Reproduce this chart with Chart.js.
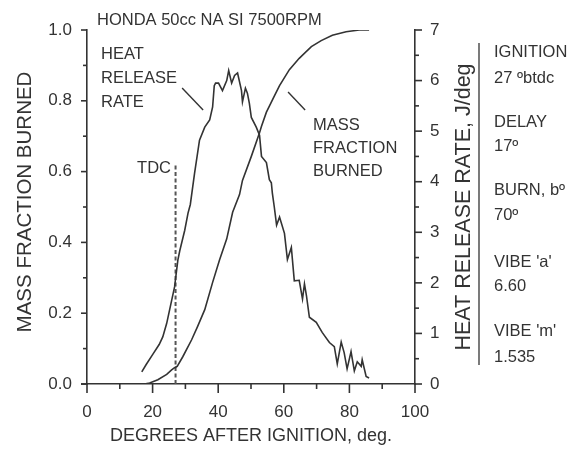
<!DOCTYPE html>
<html><head><meta charset="utf-8">
<script src="https://cdn.jsdelivr.net/npm/chart.js@4.4.0/dist/chart.umd.min.js"></script>
<style>html,body{margin:0;padding:0;background:#fff}#c{display:block}</style>
</head><body>
<canvas id="c" width="571" height="450"></canvas>
<script>
// ---- data ----
const mfbDeg = [17.5,19.1,21.6,24.3,25.8,26.7,27.5,29.2,31.9,33.7,35.9,38.3,40.4,42.6,44.4,46.5,47.4,50.1,52.6,53.2,54.7,55.6,57.1,58.7,61.7,64.7,68.4,71.4,74.8,79,83,86];
const mfbVal = [0,0.003,0.012,0.027,0.04,0.046,0.05,0.077,0.125,0.162,0.21,0.287,0.35,0.41,0.485,0.535,0.575,0.643,0.71,0.728,0.768,0.785,0.813,0.843,0.888,0.92,0.953,0.97,0.985,0.995,1.0,1.0];
const hrrDeg = [16.7,18,20,22,23.1,24.3,25.2,26.7,27.7,28.3,29.8,30.8,31.5,32.8,34.3,35.9,37.4,38.3,38.8,39.2,40.1,41.3,42.6,43.2,44.1,45.0,45.9,47.1,47.4,48.3,48.9,49.5,50.1,51.6,52.6,53.2,54.7,55.6,56.2,56.5,57.1,57.8,58.7,60.2,61.1,62.3,63.2,64.7,65.7,66.3,66.9,67.8,69.9,71.7,73.9,75.4,76.3,77.5,78.4,79.3,80.5,81.5,82.4,83.6,83.9,85.1,86.0];
const hrrVal = [0.24,0.38,0.58,0.78,0.93,1.2,1.47,1.92,2.45,2.64,3.04,3.38,3.55,4.17,4.82,5.08,5.22,5.48,5.9,5.95,5.95,5.8,6.0,6.2,5.95,6.1,6.15,5.8,5.58,5.85,5.75,5.55,5.27,5.08,4.92,4.5,4.38,4.04,3.98,3.78,3.5,3.14,3.3,2.98,2.46,2.7,2.04,2.05,1.68,1.98,1.75,1.32,1.22,1.02,0.82,0.74,0.4,0.83,0.62,0.3,0.64,0.26,0.44,0.35,0.48,0.15,0.12];
const tdcDeg = [27,27];
const tdcVal = [0,0.62];
const hrrLeaderDeg = [29.0,35.4];
const hrrLeaderVal = [0.836,0.774];
const mfbLeaderDeg = [61.3,66.5];
const mfbLeaderVal = [0.825,0.774];
const xTickValues = [0,20,40,60,80,100];
const yLeftTickValues = [0,0.2,0.4,0.6,0.8,1.0];
const yRightTickValues = [0,1,2,3,4,5,6,7];
const chartTitle = 'HONDA 50cc NA SI 7500RPM';
const xTitle = 'DEGREES AFTER IGNITION, deg.';
const yLeftTitle = 'MASS FRACTION BURNED';
const yRightTitle = 'HEAT RELEASE RATE, J/deg';
const infoLines = ['IGNITION','27 ºbtdc','DELAY','17º','BURN, bº','70º',"VIBE 'a'",'6.60',"VIBE 'm'",'1.535'];

const pts = (xs, ys) => xs.map((x,i)=>({x, y: ys[i]}));
const INK = '#333333';
const FONT = '"Liberation Sans", Arial, sans-serif';

const decor = {
  id: 'decor',
  afterDraw(chart) {
    const ctx = chart.ctx;
    const x = chart.scales.x, yl = chart.scales.yL, yr = chart.scales.yR;
    ctx.save();
    ctx.strokeStyle = INK; ctx.lineWidth = 1.6;
    const b = chart.chartArea.bottom;
    // extend bottom axis slightly to the left as in the reference
    ctx.beginPath(); ctx.moveTo(chart.chartArea.left - 6, b); ctx.lineTo(chart.chartArea.left, b); ctx.stroke();
    for (let v = 0; v <= 100; v += 10) {
      const p = x.getPixelForValue(v), len = (v % 20 === 0) ? 9 : 5;
      ctx.beginPath(); ctx.moveTo(p, b); ctx.lineTo(p, b + len); ctx.stroke();
    }
    const l = chart.chartArea.left;
    for (let k = 0; k <= 10; k++) {
      const p = yl.getPixelForValue(k/10), len = (k % 2 === 0) ? 6 : 4;
      ctx.beginPath(); ctx.moveTo(l, p); ctx.lineTo(l - len, p); ctx.stroke();
    }
    const r = chart.chartArea.right;
    for (let k = 0; k <= 14; k++) {
      const p = yr.getPixelForValue(k/2), len = (k % 2 === 0) ? 7 : 4;
      ctx.beginPath(); ctx.moveTo(r, p); ctx.lineTo(r + len, p); ctx.stroke();
    }
    // separator line of the info block
    ctx.lineWidth = 1.3;
    ctx.beginPath(); ctx.moveTo(479, 43); ctx.lineTo(479, 365); ctx.stroke();

    ctx.fillStyle = INK;
    ctx.textBaseline = 'middle';
    const txt = (s, px, py, size, align='left') => {
      ctx.font = size + 'px ' + FONT; ctx.textAlign = align; ctx.fillText(s, px, py);
    };
    txt(chartTitle, 97, 20, 16.5);
    txt('HEAT', 101, 54, 16.5); txt('RELEASE', 101, 78, 16.5); txt('RATE', 101, 102, 16.5);
    txt('MASS', 313, 125, 16.5); txt('FRACTION', 313, 148, 16.5); txt('BURNED', 313, 171, 16.5);
    txt('TDC', 171, 168, 16.5, 'right');
    const infoY = [52,78,122,146,190,215,262,286,331,357];
    infoLines.forEach((s,i)=> txt(s, 494, infoY[i], 16.5));
    // axis titles
    txt(xTitle, (x.left + x.right)/2, 436, 18, 'center');
    ctx.save(); ctx.translate(25, 202); ctx.rotate(-Math.PI/2);
    txt(yLeftTitle, 0, 0, 20.5, 'center'); ctx.restore();
    ctx.save(); ctx.translate(464, 207); ctx.rotate(-Math.PI/2);
    txt(yRightTitle, 0, 0, 21.5, 'center'); ctx.restore();
    ctx.restore();
  }
};

const lineDs = (label, data, axis, extra={}) => Object.assign({
  label, data, yAxisID: axis, borderColor: INK, borderWidth: 1.6,
  pointRadius: 0, tension: 0, fill: false
}, extra);

new Chart(document.getElementById('c'), {
  type: 'line',
  data: {
    datasets: [
      lineDs('Heat release rate', pts(hrrDeg, hrrVal), 'yR'),
      lineDs('Mass fraction burned', pts(mfbDeg, mfbVal), 'yL'),
      lineDs('TDC', pts(tdcDeg, tdcVal), 'yL', {borderDash: [4,2.5], borderWidth: 2, borderColor: '#555'}),
      lineDs('leader1', pts(hrrLeaderDeg, hrrLeaderVal), 'yL', {borderWidth: 1.4}),
      lineDs('leader2', pts(mfbLeaderDeg, mfbLeaderVal), 'yL', {borderWidth: 1.4})
    ]
  },
  options: {
    responsive: false, animation: false,
    layout: { padding: { top: 30, left: 0, right: 0, bottom: 0 } },
    plugins: { legend: { display: false }, tooltip: { enabled: false } },
    scales: {
      x: {
        type: 'linear', position: 'bottom', min: 0, max: 100,
        afterFit: s => { s.height = 66; },
        afterBuildTicks: s => { s.ticks = xTickValues.map(v => ({value: v})); },
        ticks: { padding: 18, color: INK, font: { family: FONT, size: 17 }, callback: v => String(v) },
        grid: { display: true, drawOnChartArea: false, drawTicks: false },
        border: { display: true, color: INK, width: 1.6 }
      },
      yL: {
        type: 'linear', position: 'left', min: 0, max: 1,
        afterFit: s => { s.width = 87; },
        afterBuildTicks: s => { s.ticks = yLeftTickValues.map(v => ({value: v})); },
        ticks: { padding: 15, color: INK, font: { family: FONT, size: 17 }, callback: v => Number(v).toFixed(1) },
        grid: { display: true, drawOnChartArea: false, drawTicks: false },
        border: { display: true, color: INK, width: 1.6 }
      },
      yR: {
        type: 'linear', position: 'right', min: 0, max: 7,
        afterFit: s => { s.width = 156; },
        afterBuildTicks: s => { s.ticks = yRightTickValues.map(v => ({value: v})); },
        ticks: { padding: 15, color: INK, font: { family: FONT, size: 17 }, callback: v => String(v) },
        grid: { display: true, drawOnChartArea: false, drawTicks: false },
        border: { display: true, color: INK, width: 1.6 }
      }
    }
  },
  plugins: [decor]
});
</script>
</body></html>
